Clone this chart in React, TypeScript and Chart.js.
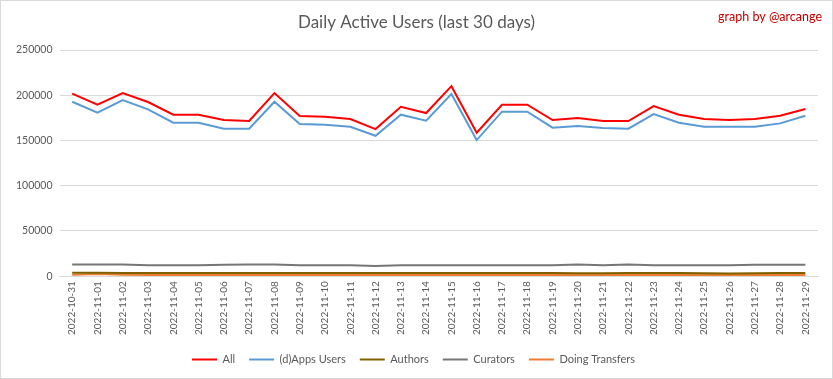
import React, { useEffect, useRef } from "react";
import { Chart, registerables } from "chart.js";

Chart.register(...registerables);

const dates = [
  "2022-10-31", "2022-11-01", "2022-11-02", "2022-11-03", "2022-11-04", "2022-11-05",
  "2022-11-06", "2022-11-07", "2022-11-08", "2022-11-09", "2022-11-10", "2022-11-11",
  "2022-11-12", "2022-11-13", "2022-11-14", "2022-11-15", "2022-11-16", "2022-11-17",
  "2022-11-18", "2022-11-19", "2022-11-20", "2022-11-21", "2022-11-22", "2022-11-23",
  "2022-11-24", "2022-11-25", "2022-11-26", "2022-11-27", "2022-11-28", "2022-11-29",
];

const allUsers = [
  201700, 189500, 202400, 192500, 178500, 178500, 172600, 171500, 202400, 177000,
  176300, 173700, 162600, 187300, 180300, 210000, 158500, 189500, 189500, 172600,
  174800, 171500, 171500, 188000, 178500, 173700, 172600, 173700, 177400, 184700,
];

const appsUsers = [
  192800, 180700, 194700, 184400, 169600, 169600, 163000, 163000, 192800, 168100,
  167400, 165200, 155200, 178500, 171800, 201300, 150400, 181800, 181800, 164100,
  165900, 163700, 163000, 179200, 169600, 165200, 165200, 165200, 168900, 177400,
];

const authors = [
  3800, 3700, 3600, 3500, 3500, 3500, 3500, 3500, 3600, 3500,
  3500, 3400, 3400, 3500, 3500, 3600, 3500, 3500, 3500, 3400,
  3100, 3300, 3400, 3400, 3400, 3300, 3000, 3300, 3500, 3500,
];

const curators = [
  12800, 12800, 12900, 12000, 12000, 12100, 12700, 12800, 12900, 12100,
  12000, 12000, 11200, 12000, 12000, 12000, 12000, 12000, 12000, 12000,
  12800, 12100, 12800, 12000, 12000, 12000, 12000, 12600, 12600, 12600,
];

const transfers = [
  1500, 2400, 1500, 1400, 1400, 1400, 1400, 1400, 1400, 1400,
  1400, 1400, 1400, 1400, 1400, 1400, 1400, 1400, 1400, 1400,
  1200, 1400, 1400, 1400, 1400, 1300, 1200, 1400, 1400, 1400,
];

const yTicks = [0, 50000, 100000, 150000, 200000, 250000];

const FONT = "Lato, 'Open Sans', sans-serif";

const titlePlugin = {
  id: "customTitles",
  afterDraw(chart: any) {
    const ctx = chart.ctx;
    ctx.save();
    ctx.fillStyle = "#595959";
    ctx.font = `17px ${FONT}`;
    ctx.textAlign = "center";
    ctx.textBaseline = "middle";
    ctx.fillText("Daily Active Users (last 30 days)", chart.width / 2, 22);
    ctx.fillStyle = "#c00000";
    ctx.font = `12.5px ${FONT}`;
    ctx.textAlign = "right";
    ctx.fillText("graph by @arcange", 821, 16);
    ctx.restore();
  },
};

export default function App() {
  const ref = useRef<HTMLCanvasElement>(null);
  useEffect(() => {
    if (!ref.current) return;
    const mk = (label: string, data: number[], color: string) => ({
      label,
      data,
      borderColor: color,
      backgroundColor: color,
      borderWidth: 2,
      pointRadius: 0,
      pointHoverRadius: 0,
      tension: 0,
      fill: false,
      pointStyle: "line",
    });
    const chart = new Chart(ref.current, {
      type: "line",
      data: {
        labels: dates,
        datasets: [
          mk("All", allUsers, "#ff0000"),
          mk("(d)Apps Users", appsUsers, "#5b9bd5"),
          mk("Authors", authors, "#7f6000"),
          mk("Curators", curators, "#767676"),
          mk("Doing Transfers", transfers, "#ed7d31"),
        ],
      },
      options: {
        animation: false,
        responsive: true,
        maintainAspectRatio: false,
        layout: { padding: { top: 49, right: 14, left: 8, bottom: 3 } },
        plugins: {
          title: { display: false },
          tooltip: { enabled: false },
          legend: {
            position: "bottom",
            labels: {
              usePointStyle: true,
              pointStyleWidth: 25,
              boxHeight: 10,
              padding: 14,
              color: "#595959",
              font: { family: FONT, size: 11 },
            },
          },
        },
        scales: {
          x: {
            offset: true,
            grid: { display: false, drawTicks: false },
            border: { display: true, color: "#d9d9d9", width: 1 },
            ticks: {
              color: "#595959",
              font: { family: FONT, size: 10 },
              minRotation: 90,
              maxRotation: 90,
              autoSkip: false,
              padding: 5,
            },
          },
          y: {
            min: 0,
            max: 250000,
            afterBuildTicks: (axis: any) => {
              axis.ticks = yTicks.map((v) => ({ value: v }));
            },
            grid: { color: "#d9d9d9", drawTicks: false },
            border: { display: false },
            ticks: {
              color: "#595959",
              font: { family: FONT, size: 10.5 },
              padding: 7,
              callback: (v: any) => String(v),
            },
          },
        },
      },
      plugins: [titlePlugin],
    } as any);
    return () => chart.destroy();
  }, []);
  return (
    <div
      style={{
        position: "fixed",
        left: 0,
        top: 0,
        width: 833,
        height: 379,
        boxSizing: "border-box",
        border: "1px solid #d9d9d9",
        background: "#fff",
      }}
    >
      <canvas ref={ref} />
    </div>
  );
}
